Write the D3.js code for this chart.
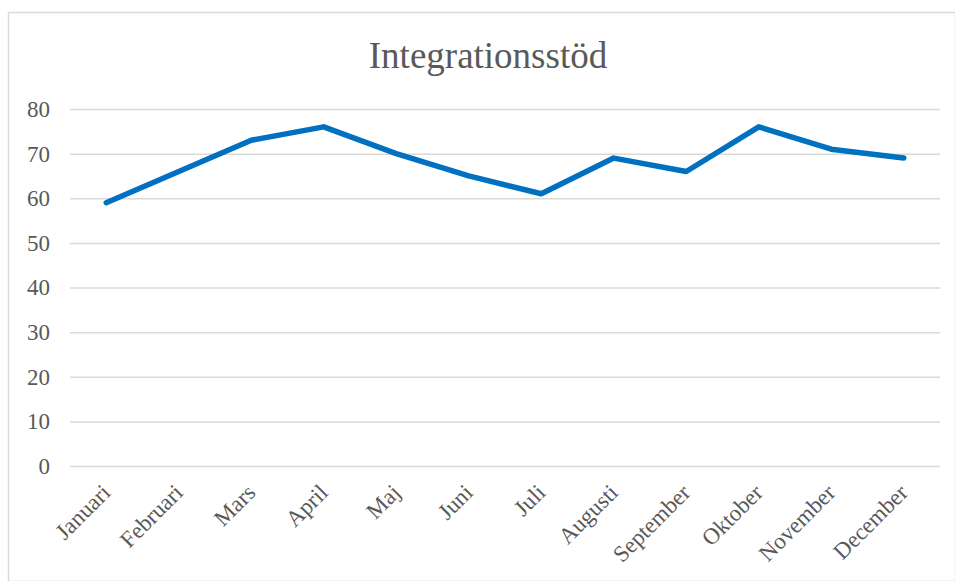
<!DOCTYPE html>
<html>
<head>
<meta charset="utf-8">
<script src="https://cdn.jsdelivr.net/npm/d3@7"></script>
<style>
  body { margin: 0; background: #fff; }
  text { font-family: "Liberation Serif", "Times New Roman", serif; fill: #595959; }
</style>
</head>
<body>
<div id="chart"></div>
<script>
let width = 955;
let height = 581;
let margin = ({top: 109, right: 15, bottom: 115, left: 70});

// Chart data
let months = ["Januari", "Februari", "Mars", "April", "Maj", "Juni", "Juli",
    "Augusti", "September", "Oktober", "November", "December"];
let values = [59, 66, 73, 76, 70, 65, 61, 69, 66, 76, 71, 69];
let yTicks = [0, 10, 20, 30, 40, 50, 60, 70, 80];
let title = "Integrationsstöd";

let svg = d3.select("#chart")
    .append("svg")
    .attr("width", width)
    .attr("height", height);

// Outer chart frame
svg.append("rect")
    .attr("x", 8.5)
    .attr("y", 12.5)
    .attr("width", 947)
    .attr("height", 569)
    .attr("fill", "none")
    .attr("stroke", "#d9d9d9")
    .attr("stroke-width", 1.5);

let xScale = d3.scalePoint()
    .domain(months)
    .range([margin.left, 940])
    .padding(0.5);

let yScale = d3.scaleLinear()
    .domain([0, 80])
    .range([466, 109]);

// Gridlines + y labels
let yAxis = d3.axisLeft(yScale)
    .tickValues(yTicks)
    .tickSize(-(940 - margin.left))
    .tickPadding(20);

let gy = svg.append("g")
    .attr("transform", "translate(" + margin.left + ",0)")
    .call(yAxis);

gy.select(".domain").remove();
gy.selectAll(".tick line")
    .attr("stroke", "#d9d9d9")
    .attr("stroke-width", 1.5);
gy.selectAll(".tick text")
    .attr("font-size", 23)
    .attr("fill", "#595959")
    .style("font-family", "'Liberation Serif', serif");

// Category labels rotated
let xAxis = d3.axisBottom(xScale).tickSize(0).tickPadding(0);

let gx = svg.append("g")
    .attr("transform", "translate(0,466)")
    .call(xAxis);

gx.select(".domain").remove();
gx.selectAll(".tick text")
    .attr("font-size", 23)
    .attr("fill", "#595959")
    .style("font-family", "'Liberation Serif', serif")
    .attr("text-anchor", "end")
    .attr("dy", 0)
    .attr("transform", "translate(5,28) rotate(-45)");

// Data line
let line = d3.line()
    .x(function(d, i) { return xScale(months[i]); })
    .y(function(d) { return yScale(d); });

svg.append("path")
    .datum(values)
    .attr("d", line)
    .attr("fill", "none")
    .attr("stroke", "#0070c0")
    .attr("stroke-width", 5.5)
    .attr("stroke-linejoin", "round")
    .attr("stroke-linecap", "round");

// Title
svg.append("text")
    .attr("x", 488)
    .attr("y", 68)
    .attr("text-anchor", "middle")
    .attr("font-size", 37)
    .text(title);
</script>
</body>
</html>
